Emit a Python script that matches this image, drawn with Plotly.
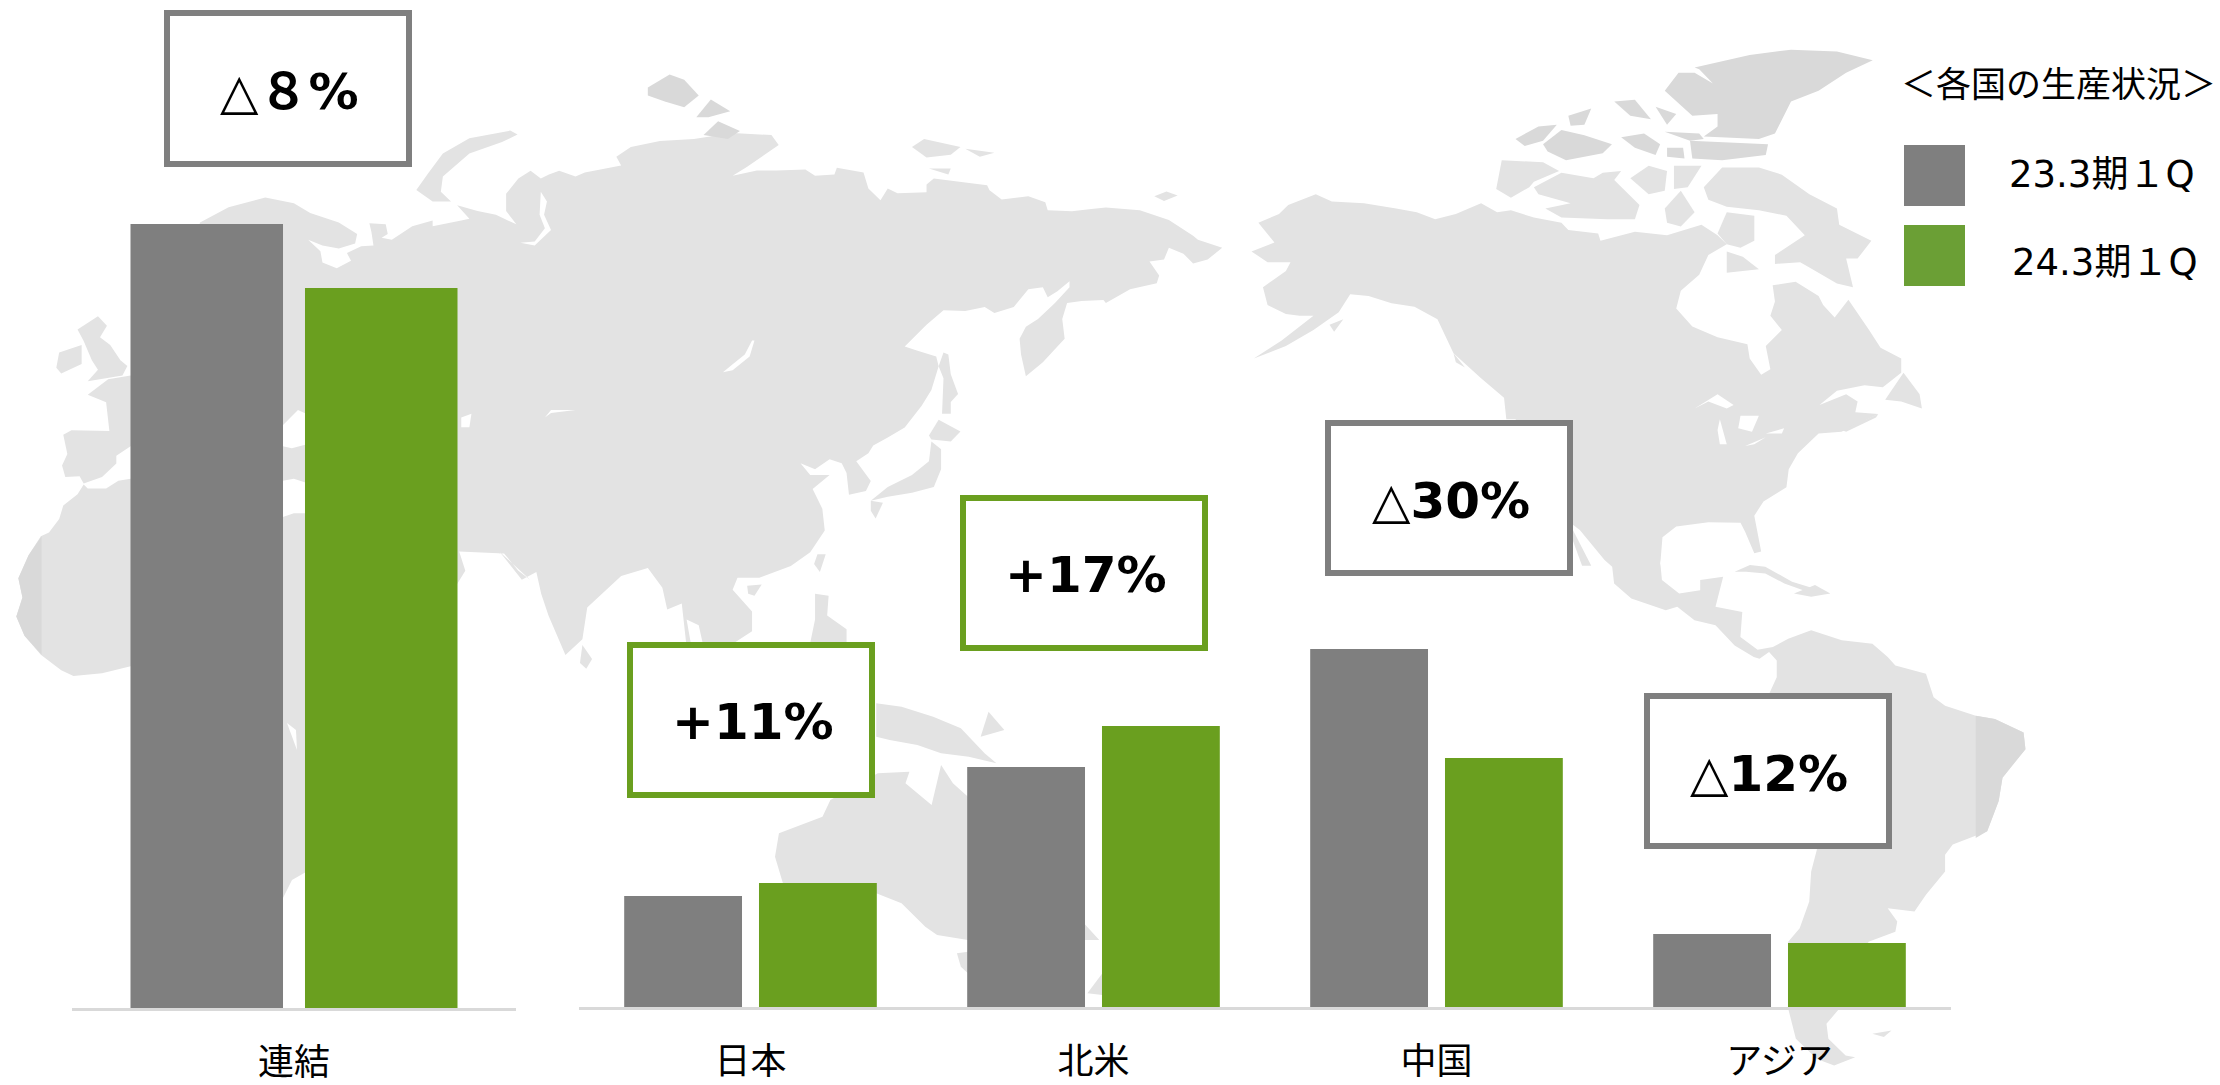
import plotly.graph_objects as go

# ---------- data ----------
consol_cats = ["連結"]
consol_prev = [784]
consol_curr = [720]
region_cats = ["日本", "北米", "中国", "アジア"]
region_prev = [111, 240, 358, 73]
region_curr = [124, 281, 249, 64]
series_names = ["23.3期１Q", "24.3期１Q"]
change_labels = ["△<b>８%</b>", "<b>+11%</b>", "<b>+17%</b>", "△<b>30%</b>", "△<b>12%</b>"]
legend_title = "＜各国の生産状況＞"

GRAY, GREEN = "#7F7F7F", "#6A9F1F"
FONT = "DejaVu Sans, 'Noto Sans CJK JP'"
W, H = 2220, 1085
LIGHT, DARK, WHITE = "#E3E3E3", "#D9D9D9", "#FFFFFF"

# ---------- decorative background map outline (zoom-frame coordinates) ----------
FRAMES = {"a": (0, 100, 640, 600), "b": (500, 50, 760, 620), "c": (1240, 30, 720, 560),
          "d": (1440, 560, 600, 525)}
def pt(f, p):
    if f == "e":
        return (p[0] / 1.2645, 640 + p[1] / 3.0)
    x0, y0, w, h = FRAMES[f]
    return (x0 + p[0] * w / 1568, y0 + p[1] * h / 1568)
def pts(f, s):
    return [pt(f, p) for p in s]

eurasia = pts("a", [(400,700),(490,320),(560,280),(650,255),(720,270),(760,295),(830,320),(875,350),(870,375),(830,388),(790,380),(755,365),(785,395),(790,425),(825,440),(860,420),(850,400),(885,382),(915,380),(910,345),(905,322),(945,325),(950,350),(935,360),(960,365),(1010,330),(1060,315),(1060,330),(1130,315),(1150,310),(1120,275),(1170,290),(1215,300),(1265,325),(1240,290),(1240,245),(1270,205),(1300,185),(1325,205),(1345,195),(1370,185),(1410,200)]) + \
    pts("b", [(175,310),(250,292),(240,270),(270,245),(330,230),(400,225),(480,210),(560,215),(575,240),(540,270),(510,295),(480,318),(530,305),(570,305),(630,302),(650,318),(690,315),(695,298),(750,310),(760,350),(785,380),(800,350),(820,362),(880,360),(880,340),(895,325),(960,335),(1005,342),(1010,355),(1035,378),(1090,370),(1125,385),(1130,405),(1180,408),(1220,402),(1250,398),(1320,405),(1380,430),(1430,470),(1440,480),(1490,500),(1460,530),(1430,540),(1410,515),(1380,500),(1370,530),(1340,535),(1360,570),(1355,590),(1300,605),(1250,640),(1245,632),(1200,635),(1170,640),(1160,680),(1165,730),(1150,750),(1120,790),(1085,825),(1075,770),(1072,730),(1085,700),(1110,680),(1145,640),(1175,600),(1175,585),(1150,610),(1130,625),(1120,600),(1090,605),(1060,650),(1020,665),(1000,650),(960,660),(915,658),(880,695),(835,750),(860,760),(900,775),(905,800),(890,860),(870,900),(835,955),(800,980),(770,1000),(760,1020),(735,1040),(765,1090),(755,1115),(720,1125),(715,1070),(705,1045),(680,1035),(650,1060),(620,1045),(640,1075),(680,1075),(645,1110),(665,1160),(670,1215),(640,1270),(600,1305),(535,1335),(490,1335),(480,1365),(520,1420),(520,1470),(470,1510),(420,1510),(410,1455),(385,1440),(395,1510),(385,1510),(375,1400),(345,1415),(335,1360),(305,1310),(250,1330),(180,1410),(170,1490),(135,1530),(100,1430),(85,1375),(75,1320),(45,1340),(0,1270)]) + \
    pts("a", [(1300,1255),(1270,1230),(1235,1185),(1125,1180),(1140,1230),(1120,1265),(800,1300),(400,1300)])
africa = pts("a", [(400,990),(320,990),(290,995),(260,1015),(215,1015),(205,1005),(190,1030),(155,1060),(145,1095),(120,1130),(100,1140),(70,1190),(45,1250),(55,1300),(40,1350),(60,1400),(100,1450),(150,1490),(180,1505),(250,1498),(320,1480)]) + \
    [(160, 660), (200, 880), (283, 898), (292, 880), (306, 872), (306, 590), (200, 590)]
europe = pts("a", [(400,720),(320,720),(265,730),(215,770),(260,790),(268,865),(175,863),(155,875),(165,925),(152,955),(160,985),(195,983),(205,1002),(250,985),(285,950),(285,930),(320,905),(400,905)])
uk = pts("a", [(190,600),(240,565),(262,590),(245,620),(270,640),(295,680),(312,695),(300,720),(215,735),(240,705),(225,680),(205,630)])
ireland = pts("a", [(145,660),(200,640),(200,690),(150,715),(138,700)])
novaya = pts("a", [(1020,235),(1050,190),(1085,140),(1150,100),(1250,80),(1268,90),(1230,110),(1150,140),(1085,200),(1080,240),(1105,265),(1060,265)])
sakhalin = pts("b", [(915,765),(925,770),(930,820),(945,870),(930,890),(930,920),(912,920),(915,830),(905,800)])
hokkaido = pts("b", [(905,935),(950,965),(930,990),(890,985),(885,975)])
honshu = pts("b", [(890,990),(910,1010),(910,1060),(895,1105),(850,1120),(800,1130),(765,1140),(800,1105),(850,1075),(885,1040)])
kyushu = pts("b", [(765,1140),(790,1145),(775,1185),(765,1165)])
taiwan = pts("b", [(655,1275),(672,1275),(660,1320),(648,1300)])
hainan = pts("b", [(510,1355),(540,1352),(525,1380),(512,1375)])
phil = pts("b", [(650,1375),(678,1380),(675,1430),(715,1465),(715,1500),(640,1500),(650,1440)])
lanka = pts("b", [(170,1505),(190,1540),(178,1565),(165,1550)])
wrangel = pts("b", [(1350,370),(1375,358),(1398,368),(1370,382)])
nsib = pts("b", [(850,245),(875,225),(950,245),(930,265),(880,272)])
nsib2 = pts("b", [(960,250),(1020,260),(990,270)])
nsib3 = pts("b", [(885,300),(930,300),(925,315)])
guinea = pts("e", [(1108,190),(1140,200),(1180,230),(1215,265),(1245,340),(1260,370),(1225,350),(1190,340),(1160,315),(1125,300),(1108,290)])
bismarck = pts("e", [(1250,215),(1270,270),(1240,290)])
australia = pts("e", [(1050,480),(1110,400),(1150,395),(1145,430),(1178,495),(1190,375),(1205,430),(1224,470),(1390,900),(1224,900),(1185,885),(1170,860),(1140,790),(1108,760),(990,730),(980,650),(985,580),(1040,530)])
victoria_au = pts("e", [(1210,940),(1224,935),(1224,1000),(1215,980)])
tasmania = pts("e", [(1375,1060),(1394,1000),(1394,1065)])

americas = pts("c", [(40,540),(85,515),(105,490),(165,460),(200,480),(270,485),(340,500),(385,510),(425,530),(470,515),(525,485),(560,510),(590,505),(640,525),(700,540),(715,560),(780,570),(785,590),(860,565),(930,575),(1005,545),(1040,575),(1060,600),(1020,630),(1000,685),(960,730),(950,780),(985,830),(1040,860),(1105,880),(1110,920),(1135,965),(1155,950),(1145,885),(1180,840),(1155,800),(1165,760),(1160,715),(1210,705),(1260,745),(1270,770),(1295,805),(1325,755),(1370,840),(1395,890),(1440,920),(1440,960),(1400,1000),(1360,995),(1300,1010),(1262,1050),(1320,1020),(1345,1040),(1340,1070),(1390,1075),(1310,1125),(1260,1130),(1215,1185),(1195,1230),(1190,1280),(1140,1320),(1120,1360),(1135,1460),(1120,1465),(1100,1405),(1090,1380),(1020,1378),(950,1390),(920,1420),(915,1500)]) + \
    pts("d", [(575,0),(580,60),(625,100),(680,90),(680,60),(740,50),(720,140),(790,155),(785,230),(830,268),(870,260),(910,235),(970,210),(1050,240),(1130,250),(1170,290),(1190,315),(1270,340),(1290,410),(1320,435),(1400,465),(1450,475),(1525,515),(1530,565),(1470,650),(1460,720),(1430,810),(1340,850),(1320,880),(1320,930),(1270,1000),(1240,1050),(1170,1040),(1195,1080),(1190,1110),(1120,1140),(1040,1345),(1010,1385),(1015,1430),(1060,1480),(1085,1485),(1030,1510),(985,1490),(930,1430),(910,1340),(910,1140),(940,1100),(965,1020),(970,930),(985,865),(860,500),(860,400),(880,350),(880,300),(860,275),(835,295),(820,290),(770,255),(720,195),(665,180),(620,140),(590,150),(500,115),(455,70),(450,20),(430,0)]) + \
    pts("c", [(740,1400),(725,1385),(700,1300),(600,1090),(580,1090),(575,1030),(525,975),(495,940),(465,905),(430,810),(380,775),(330,765),(280,745),(240,740),(215,790),(160,840),(100,885),(30,920),(90,870),(160,800),(130,800),(100,795),(60,770),(50,720),(100,675),(110,650),(60,650),(25,620),(75,595)])
baja = pts("c", [(725,1400),(765,1500),(745,1500),(725,1430)])
banks = pts("c", [(570,365),(660,370),(695,395),(640,425),(630,440),(590,470),(558,445)])
victoria = pts("c", [(640,440),(700,400),(770,415),(790,400),(830,395),(815,420),(870,490),(860,530),(800,530),(700,525),(665,500),(720,485),(650,460)])
isl1 = pts("c", [(850,415),(890,380),(930,395),(925,450),(890,460)])
isl2 = pts("c", [(945,380),(1005,380),(975,440),(945,445)])
baffin = pts("c", [(1010,440),(1050,385),(1130,385),(1180,405),(1240,460),(1300,500),(1305,545),(1375,590),(1345,640),(1320,640),(1335,720),(1300,710),(1240,665),(1220,650),(1165,655),(1165,630),(1230,575),(1190,520),(1130,505),(1060,495),(1020,475)])
southampton = pts("c", [(1060,620),(1095,635),(1130,670),(1060,680)])
kingw = pts("c", [(925,500),(960,450),(990,510),(960,550),(930,540)])
melville = pts("c", [(1060,510),(1120,520),(1120,590),(1090,610),(1060,600),(1040,570)])
newfound = pts("c", [(1405,1035),(1445,960),(1480,1020),(1485,1060),(1440,1040)])
nscotia = pts("c", [(1310,1120),(1390,1075),(1385,1085),(1320,1125)])
vancouver = pts("c", [(465,905),(490,945),(470,930)])
kodiak = pts("c", [(195,825),(225,810),(205,845)])
cuba = pts("d", [(770,35),(810,15),(850,20),(920,65),(1020,100),(960,95),(900,70),(850,40),(800,35)])
hisp = pts("d", [(925,100),(980,75),(1020,100),(970,110)])
falk = pts("d", [(1130,1415),(1180,1405),(1160,1425)])

light_polys = [eurasia, africa, europe, uk, ireland, novaya, sakhalin, hokkaido, honshu, kyushu, taiwan, hainan, phil, lanka, wrangel, nsib, nsib2, nsib3, guinea, bismarck, australia, victoria_au, tasmania, americas, baja, banks, victoria, isl1, isl2, baffin, southampton, kingw, melville, newfound, nscotia, vancouver, kodiak, cuba, hisp, falk]

dark_polys = [
    pts("a", [(102,1140),(70,1190),(45,1250),(55,1300),(40,1350),(60,1400),(102,1450)]),
    pts("d", [(1400,465),(1450,475),(1525,515),(1530,565),(1470,650),(1460,720),(1430,810),(1400,830)]),
    pts("b", [(305,95),(350,62),(380,75),(410,115),(380,145),(340,130),(305,115)]),
    pts("b", [(405,170),(435,125),(475,155),(430,170)]),
    pts("b", [(420,215),(450,180),(495,205),(470,225)]),
    pts("c", [(990,105),(1110,70),(1200,55),(1300,60),(1378,85),(1320,120),(1260,170),(1200,200),(1165,290),(1130,305),(1010,298),(1040,270),(1040,235),(985,240),(925,170),(955,120),(990,120),(1030,150),(1000,110)]),
    pts("c", [(600,305),(650,270),(690,265),(660,310),(620,325)]),
    pts("c", [(660,320),(700,280),(750,295),(810,320),(790,345),(710,365),(670,340)]),
    pts("c", [(715,240),(765,220),(750,265),(720,268)]),
    pts("c", [(815,200),(860,195),(895,250),(850,240)]),
    pts("c", [(905,215),(950,235),(930,265)]),
    pts("c", [(830,300),(880,290),(915,320),(905,350),(860,330)]),
    pts("c", [(925,285),(1000,290),(1010,305),(980,310)]),
    pts("c", [(980,310),(1150,320),(1145,350),(1050,365),(985,360)]),
    pts("c", [(930,330),(965,330),(968,360),(930,355)]),
]

white_polys = [
    pts("a", [(693,850),(730,810),(750,820),(750,900),(715,910),(693,905)]),
    pts("a", [(693,995),(720,990),(750,1000),(750,1080),(720,1080),(693,1090)]),
    pts("a", [(1325,240),(1340,265),(1333,300),(1350,340),(1310,380),(1275,373),(1310,370),(1335,335),(1322,300)]),
    pts("a", [(1130,830),(1155,820),(1150,855),(1130,855)]),
    pts("a", [(1335,830),(1350,810),(1410,810),(1350,818)]),
    pts("b", [(520,735),(525,735),(515,775),(480,810),(460,815),(480,795),(505,770)]),
    [(287, 723), (297, 750), (296, 730)],
    pts("c", [(990,1060),(1040,1020),(1075,1050),(1060,1060),(1020,1040)]),
    pts("c", [(1045,1090),(1060,1160),(1045,1160),(1040,1120)]),
    pts("c", [(1090,1080),(1130,1080),(1115,1125),(1085,1115)]),
    pts("c", [(1100,1165),(1145,1140),(1120,1160)]),
    pts("c", [(1145,1130),(1185,1115),(1180,1130)]),
]

def poly_shape(poly, colour):
    d = "M" + " L".join(f"{x/W:.5f},{1-y/H:.5f}" for x, y in poly) + " Z"
    return dict(type="path", xref="paper", yref="paper", layer="below", path=d, fillcolor=colour, line=dict(width=0))

def rect(x0, y0, x1, y1, line=None, fill=WHITE, lw=0):
    return dict(type="rect", xref="paper", yref="paper", layer="below",
                x0=x0/W, x1=x1/W, y0=1-y0/H, y1=1-y1/H, fillcolor=fill,
                line=dict(color=line or fill, width=lw))

shapes = [poly_shape(p, LIGHT) for p in light_polys] + \
         [poly_shape(p, DARK) for p in dark_polys] + \
         [poly_shape(p, WHITE) for p in white_polys]

# callout boxes: outer edges in px, colour, label centre
boxes = [
    (164, 10, 412, 167, GRAY, 289, 92),
    (627, 642, 875, 798, GREEN, 753, 722),
    (960, 495, 1208, 651, GREEN, 1086, 575),
    (1325, 420, 1573, 576, GRAY, 1451, 501),
    (1644, 693, 1892, 849, GRAY, 1769, 774),
]
annotations = []
for (x0, y0, x1, y1, col, tx, ty), lab in zip(boxes, change_labels):
    shapes.append(rect(x0+3, y0+3, x1-3, y1-3, line=col, lw=6))
    annotations.append(dict(xref="paper", yref="paper", x=tx/W, y=1-ty/H, text=lab, showarrow=False,
                            xanchor="center", yanchor="middle", font=dict(family=FONT, size=50, color="#000000")))

# legend
shapes.append(rect(1904, 145, 1965, 206, fill=GRAY))
shapes.append(rect(1904, 225, 1965, 286, fill="#6B9F35"))
annotations.append(dict(xref="paper", yref="paper", x=1899/W, y=1-85/H, text=legend_title, showarrow=False,
                        xanchor="left", yanchor="middle", font=dict(family=FONT, size=35, color="#000000")))
annotations.append(dict(xref="paper", yref="paper", x=2007/W, y=1-175/H, text=series_names[0], showarrow=False,
                        xanchor="left", yanchor="middle", font=dict(family=FONT, size=37, color="#000000")))
annotations.append(dict(xref="paper", yref="paper", x=2010/W, y=1-262/H, text=series_names[1], showarrow=False,
                        xanchor="left", yanchor="middle", font=dict(family=FONT, size=37, color="#000000")))

fig = go.Figure()
fig.add_bar(x=consol_cats, y=consol_prev, name=series_names[0], marker_color=GRAY, marker_line_width=0, xaxis="x", yaxis="y", showlegend=False)
fig.add_bar(x=consol_cats, y=consol_curr, name=series_names[1], marker_color=GREEN, marker_line_width=0, xaxis="x", yaxis="y", showlegend=False)
fig.add_bar(x=region_cats, y=region_prev, name=series_names[0], marker_color=GRAY, marker_line_width=0, xaxis="x2", yaxis="y2", showlegend=False)
fig.add_bar(x=region_cats, y=region_curr, name=series_names[1], marker_color=GREEN, marker_line_width=0, xaxis="x2", yaxis="y2", showlegend=False)

axis_common = dict(type="category", showline=True, linecolor="#D9D9D9", linewidth=3, ticks="", showgrid=False,
                   zeroline=False, tickfont=dict(family=FONT, size=36, color="#000000"), ticklabelstandoff=21,
                   automargin=False, fixedrange=True)
y_common = dict(visible=False, showgrid=False, zeroline=False, fixedrange=True)

fig.update_layout(
    width=W, height=H, margin=dict(l=0, r=0, t=0, b=0),
    paper_bgcolor="#FFFFFF", plot_bgcolor="rgba(0,0,0,0)",
    barmode="group", bargap=0.214, bargroupgap=0.126,
    xaxis=dict(domain=[72/W, 516/W], anchor="y", **axis_common),
    yaxis=dict(domain=[(H-1008)/H, 1], range=[0, 1008], anchor="x", **y_common),
    xaxis2=dict(domain=[579/W, 1951/W], anchor="y2", **axis_common),
    yaxis2=dict(domain=[(H-1007)/H, 1], range=[0, 1007], anchor="x2", **y_common),
    shapes=shapes, annotations=annotations, showlegend=False,
)

fig.write_html("out.html", post_script="document.body.style.margin='0';", config={"displayModeBar": False})
